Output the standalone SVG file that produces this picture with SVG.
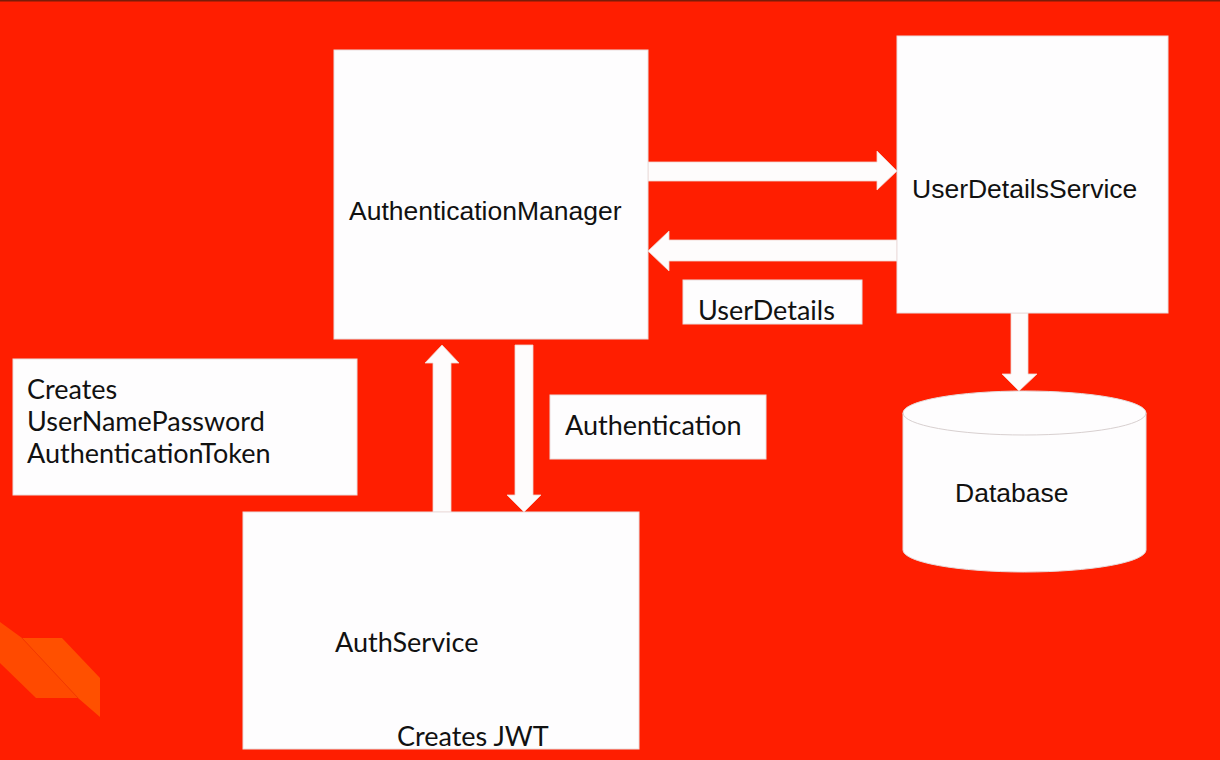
<svg xmlns="http://www.w3.org/2000/svg" width="1220" height="760" viewBox="0 0 1220 760">
<style>
.box{fill:#fefdfe;stroke:#e9dede;stroke-width:1}
.arr{fill:#fefcfc;stroke:#f0d6d0;stroke-width:0.8}
.sans{font-family:"Liberation Sans",Arial,sans-serif;font-size:26.5px;fill:#111}
.lato{font-family:Lato,"Liberation Sans",sans-serif;font-size:27px;fill:#111}
</style>
<rect x="0" y="0" width="1220" height="760" fill="#ff1e00"/>
<rect x="0" y="0" width="1220" height="1.5" fill="#7a1c08"/>
<g id="decoration">
<polygon points="0,622 22,638 78,698 36,698 0,663" fill="#ff4a00"/>
<polygon points="22,638 62,638 100,678 100,717 78,698" fill="#ff5000"/>
<line x1="22" y1="638" x2="78" y2="698" stroke="#f23a00" stroke-width="1"/>
</g>
<g id="connectors">
<polygon class="arr" points="648,162 877,162 877,151 897,171 877,190 877,181 648,181"/>
<polygon class="arr" points="897,240 669,240 669,231 648,251 669,271 669,261 897,261"/>
<polygon class="arr" points="433,512 433,363 425,363 442,345 459,363 451,363 451,512"/>
<polygon class="arr" points="515,345 533,345 533,495 541,495 524,512 507,495 515,495"/>
<polygon class="arr" points="1011,313 1028,313 1028,374 1037,374 1019,391 1002,374 1011,374"/>
</g>
<g id="authManager">
<rect class="box" x="334" y="50" width="314" height="289"/>
<text class="sans" x="349" y="220">AuthenticationManager</text>
</g>
<g id="userDetailsService">
<rect class="box" x="897" y="36" width="271" height="277"/>
<text class="sans" x="912" y="198">UserDetailsService</text>
</g>
<g id="userDetailsLabel">
<rect class="box" x="683" y="280" width="179" height="44"/>
<text class="lato" x="698" y="320">UserDetails</text>
</g>
<g id="authenticationLabel">
<rect class="box" x="550" y="395" width="216" height="64"/>
<text class="lato" x="565" y="435" font-size="26.5">Authentication</text>
</g>
<g id="createsToken">
<rect class="box" x="13" y="359" width="344" height="136"/>
<text class="lato" x="27" y="399">Creates</text>
<text class="lato" x="27" y="431">UserNamePassword</text>
<text class="lato" x="27" y="463">AuthenticationToken</text>
</g>
<g id="authService">
<rect class="box" x="243" y="512" width="396" height="237"/>
<text class="lato" x="335" y="652">AuthService</text>
<text class="lato" x="397" y="746">Creates JWT</text>
</g>
<g id="database">
<path d="M903,413 A121.5,22 0 0 1 1146,413 L1146,550 A121.5,22 0 0 1 903,550 Z" fill="#fefdfe" stroke="#e6dcdc" stroke-width="1"/>
<path d="M903,413 A121.5,22 0 0 0 1146,413" fill="none" stroke="#d8d0d0" stroke-width="1"/>
<text class="sans" x="955" y="502">Database</text>
</g>
</svg>
